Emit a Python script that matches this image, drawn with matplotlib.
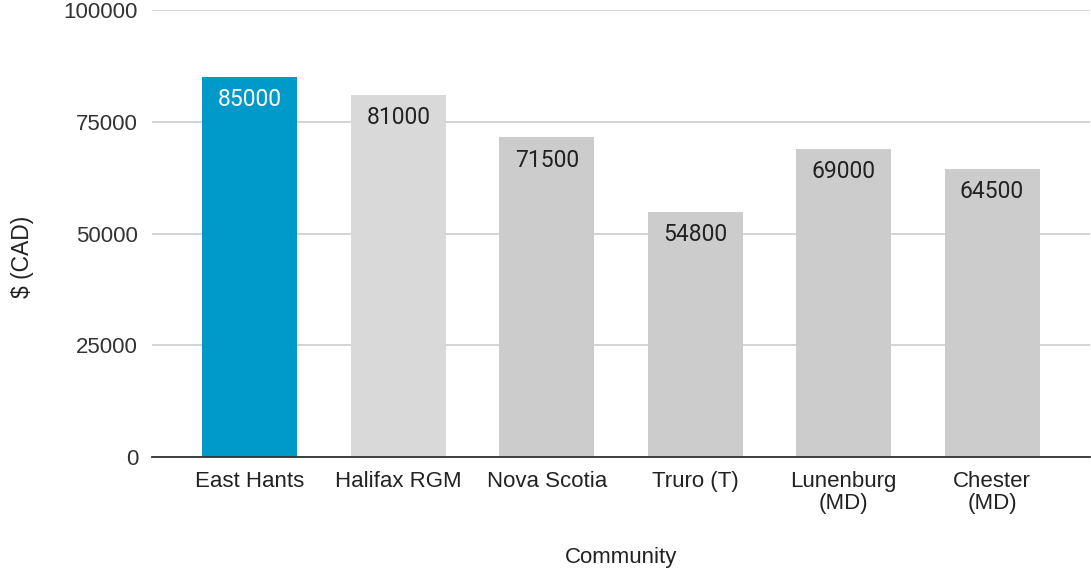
import matplotlib
matplotlib.use("Agg")
import matplotlib.pyplot as plt

categories = ["East Hants", "Halifax RGM", "Nova Scotia", "Truro (T)", "Lunenburg\n(MD)", "Chester\n(MD)"]
values = [85000, 81000, 71500, 54800, 69000, 64500]
colors = ["#009ACA", "#D9D9D9", "#CCCCCC", "#CCCCCC", "#CCCCCC", "#CCCCCC"]
label_colors = ["#FFFFFF", "#222222", "#222222", "#222222", "#222222", "#222222"]
yticks = [0, 25000, 50000, 75000, 100000]

fig = plt.figure(figsize=(10.91, 5.73), dpi=100)
ax = fig.add_axes([152/1091, 1-457/573, (1090-152)/1091, (457-10)/573])

x = list(range(len(categories)))
bars = ax.bar(x, values, width=0.64, color=colors, zorder=3)

for xi, v, lc in zip(x, values, label_colors):
    ax.annotate(str(v), (xi, v), xytext=(0, -8), textcoords="offset points",
                ha="center", va="top", fontsize=16.5, color=lc, family="Roboto", zorder=4)

ax.set_xlim(-0.66, 5.66)
ax.set_ylim(0, 100000)
ax.set_yticks(yticks)
ax.set_yticklabels([str(t) for t in yticks], fontsize=16, color="#333333", family="Liberation Sans")
ax.set_xticks(x)
ax.set_xticklabels(categories, fontsize=16, color="#222222", family="Liberation Sans", linespacing=1.07)
ax.tick_params(axis="both", length=0)
ax.tick_params(axis="y", pad=10)
ax.tick_params(axis="x", pad=10)
ax.grid(axis="y", color="#CCCCCC", linewidth=1.2, zorder=0)
for s in ["top", "right", "left"]:
    ax.spines[s].set_visible(False)
ax.spines["bottom"].set_color("#333333")
ax.spines["bottom"].set_linewidth(1.3)
ax.spines["bottom"].set_zorder(5)

fig.text(23/1091, 1-257/573, "$ (CAD)", rotation=90, ha="center", va="center",
         fontsize=16.5, color="#222222", family="Liberation Sans")
fig.text(621/1091, 1-558/573, "Community", ha="center", va="center",
         fontsize=16, color="#222222", family="Liberation Sans")

fig.savefig("out.png", dpi=100)
